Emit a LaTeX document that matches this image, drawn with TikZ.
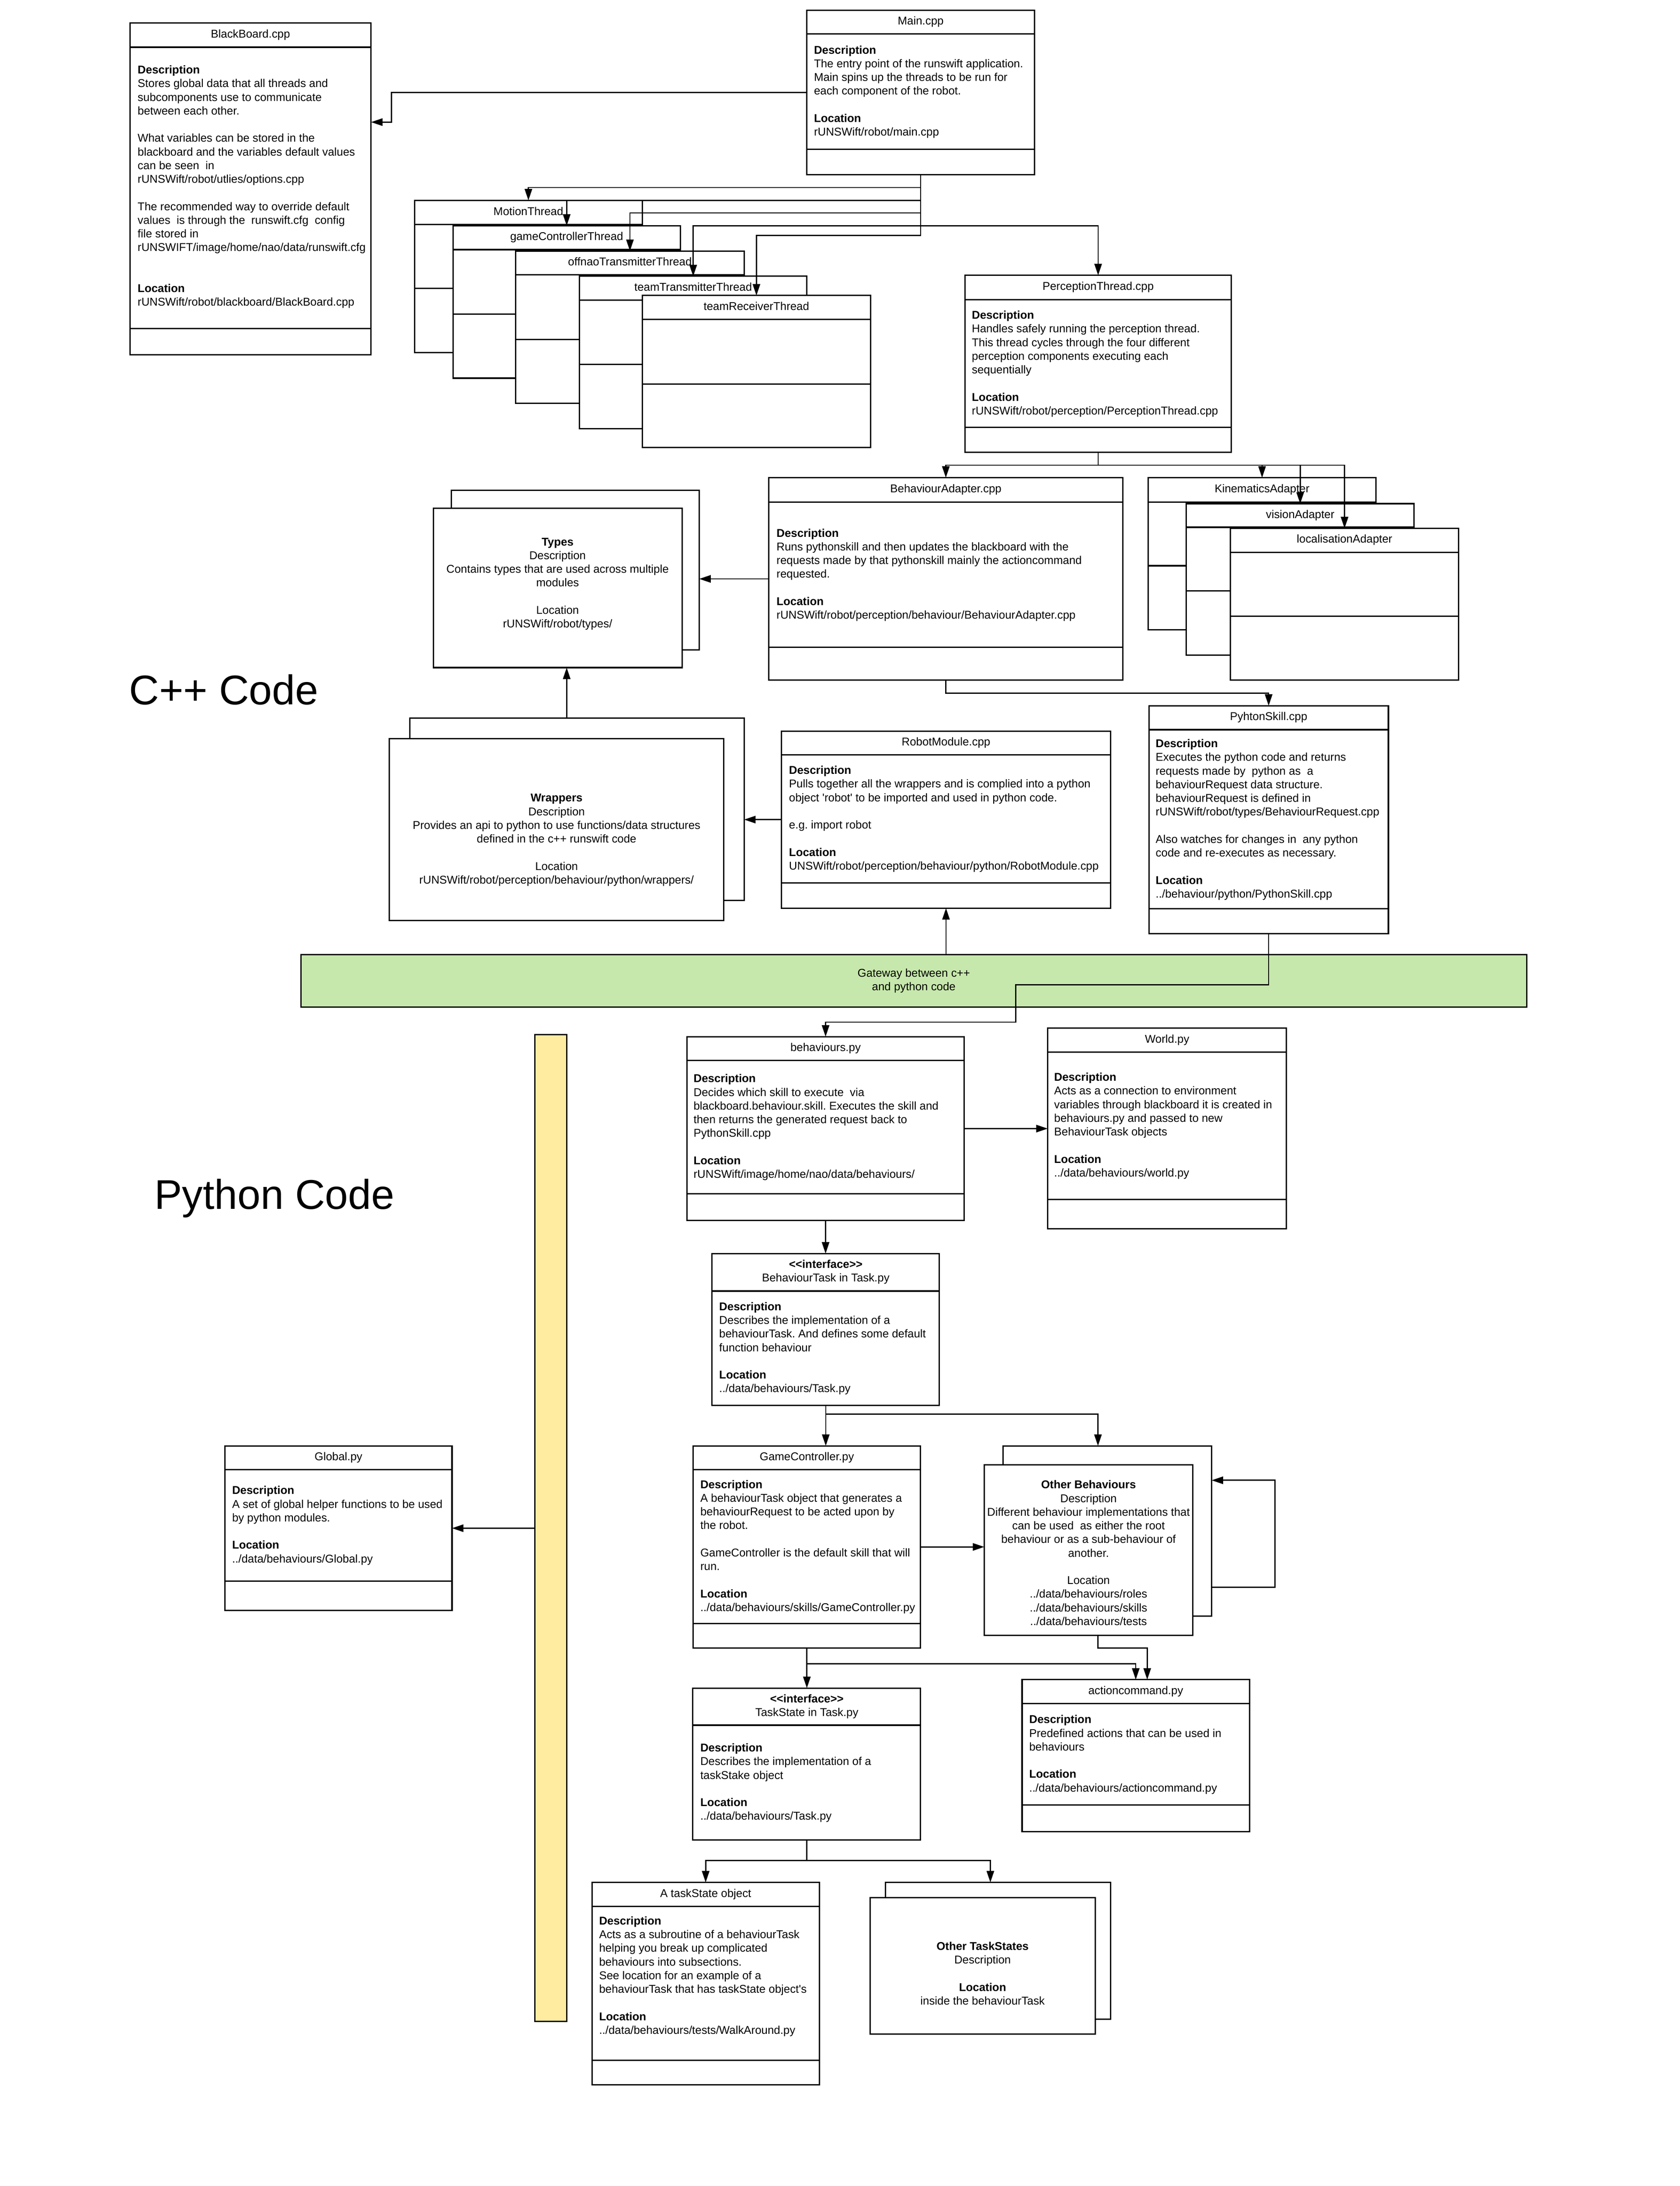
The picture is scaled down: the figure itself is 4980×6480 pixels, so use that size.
\documentclass[tikz,border=0pt]{standalone}
\usepackage{fontspec}
\setmainfont{Liberation Sans}
\usetikzlibrary{arrows.meta}
\frenchspacing
\definecolor{gwgreen}{RGB}{199,232,172}
\definecolor{baryellow}{RGB}{255,236,161}
\newcommand\bodyf{\fontsize{33.5}{40.5}\selectfont}
\newcommand\bigf{\fontsize{123}{148}\selectfont}
\newcommand\intf{\textbf{\textless\kern0pt\textless\kern0pt interface\textgreater\kern0pt\textgreater}}
% plain rectangle: name, x1, y1, x2, y2
\newcommand\plainbox[5]{%
  \node[box, anchor=north west, minimum width={(#4-#2)*1pt}, minimum height={(#5-#3)*1pt}] (#1) at (#2,#3) {};}
% class box with header and divider: name, x1, y1, x2, y2, header y, divider y, title
\newcommand\umlA[8]{%
  \plainbox{#1}{#2}{#3}{#4}{#5}%
  \draw[bline] (#2,#6) -- (#4,#6);
  \draw[bline] (#2,#7) -- (#4,#7);
  \node[ttl] (#1-t) at ({(#2+#4)/2},{(#3+#6)/2}) {\strut #8};}
% class box with header only: name, x1, y1, x2, y2, header y
\newcommand\umlB[6]{%
  \plainbox{#1}{#2}{#3}{#4}{#5}%
  \draw[bline] (#2,#6) -- (#4,#6);}
\begin{document}
\begin{tikzpicture}[x=1pt,y=-1pt,
  box/.style={draw, line width=4pt, fill=white, inner sep=0pt, outer sep=0pt},
  bline/.style={line width=4pt},
  conn/.style={line width=3.5pt, -{Triangle[length=34pt,width=22pt]}},
  txt/.style={anchor=north west, inner sep=0pt, align=left, font=\bodyf},
  ctxt/.style={anchor=north, inner sep=0pt, align=center, font=\bodyf},
  ttl/.style={inner sep=0pt, align=center, font=\bodyf},
  biglabel/.style={anchor=base west, inner sep=0pt, font=\bigf}]
\fill[white] (0,0) rectangle (4980,6480);
\useasboundingbox (0,0) rectangle (4980,6480);

% ---------------- BlackBoard ----------------
\umlA{bb}{385}{68}{1100}{1052}{140}{974}{BlackBoard.cpp}
\node[txt] (bb-d) at (408,190) {\strut\textbf{Description}\\
Stores global data that all threads and\\
subcomponents use to communicate\\
between each other.\\[40.5pt]
What variables can be stored in the\\
blackboard and the variables default values\\
can be seen\ \ in\\
rUNSWift/robot/utlies/options.cpp\\[40.5pt]
The recommended way to override default\\
values\ \ is through the\ \ runswift.cfg\ \ config\\
file stored in\\
rUNSWIFT/image/home/nao/data/runswift.cfg\\[81pt]
\textbf{Location}\\
rUNSWift/robot/blackboard/BlackBoard.cpp};

% ---------------- Main ----------------
\umlA{main}{2392}{30}{3067}{518}{101}{443}{Main.cpp}
\node[txt] (main-d) at (2413,131) {\strut\textbf{Description}\\
The entry point of the runswift application.\\
Main spins up the threads to be run for\\
each component of the robot.\\[40.5pt]
\textbf{Location}\\
rUNSWift/robot/main.cpp};

% ---------------- Threads ----------------
\umlA{motion}{1229}{594}{1904}{1045}{666}{855}{MotionThread}
\umlA{gct}{1343}{669}{2017}{1121}{740}{931}{gameControllerThread}
\umlA{offnao}{1529}{744}{2206}{1196}{815}{1006}{offnaoTransmitterThread}
\umlA{ttt}{1718}{819}{2392}{1271}{890}{1080}{teamTransmitterThread}
\umlA{trt}{1904}{876}{2581}{1327}{947}{1138}{teamReceiverThread}

% ---------------- PerceptionThread ----------------
\umlA{perc}{2861}{816}{3650}{1341}{888}{1267}{PerceptionThread.cpp}
\node[txt] (perc-d) at (2881,917) {\strut\textbf{Description}\\
Handles safely running the perception thread.\\
This thread cycles through the four different\\
perception components executing each\\
sequentially\\[40.5pt]
\textbf{Location}\\
rUNSWift/robot/perception/PerceptionThread.cpp};

% ---------------- BehaviourAdapter ----------------
\umlA{ba}{2279}{1416}{3329}{2016}{1488}{1919}{BehaviourAdapter.cpp}
\node[txt] (ba-d) at (2302,1563) {\strut\textbf{Description}\\
Runs pythonskill and then updates the blackboard with the\\
requests made by that pythonskill mainly the actioncommand\\
requested.\\[40.5pt]
\textbf{Location}\\
rUNSWift/robot/perception/behaviour/BehaviourAdapter.cpp};

% ---------------- Adapters ----------------
\umlA{kin}{3404}{1416}{4079}{1867}{1488}{1677}{KinematicsAdapter}
\umlA{vis}{3517}{1493}{4192}{1942}{1563}{1752}{visionAdapter}
\umlA{loc}{3648}{1566}{4324}{2016}{1637}{1827}{localisationAdapter}

% ---------------- Types ----------------
\plainbox{typesb}{1338}{1454}{2073}{1927}
\plainbox{typesf}{1285}{1507}{2022}{1979}
\node[ctxt] (types-d) at (1653,1589) {\strut\textbf{Types}\\
Description\\
Contains types that are used across multiple\\
modules\\[40.5pt]
Location\\
rUNSWift/robot/types/};

% ---------------- Wrappers ----------------
\plainbox{wrapb}{1215}{2129}{2206}{2669}
\plainbox{wrapf}{1154}{2189}{2145}{2729}
\node[ctxt] (wrap-d) at (1650,2348) {\strut\textbf{Wrappers}\\
Description\\
Provides an api to python to use functions/data structures\\
defined in the c++ runswift code\\[40.5pt]
Location\\
rUNSWift/robot/perception/behaviour/python/wrappers/};

% ---------------- RobotModule ----------------
\umlA{rm}{2317}{2167}{3292}{2692}{2238}{2617}{RobotModule.cpp}
\node[txt] (rm-d) at (2339,2266) {\strut\textbf{Description}\\
Pulls together all the wrappers and is complied into a python\\
object \textquotesingle robot\textquotesingle\ to be imported and used in python code.\\[40.5pt]
e.g. import robot\\[40.5pt]
\textbf{Location}\\
UNSWift/robot/perception/behaviour/python/RobotModule.cpp};

% ---------------- PythonSkill ----------------
\umlA{ps}{3406}{2092}{4116}{2767}{2163}{2694}{PyhtonSkill.cpp}
\node[txt] (ps-d) at (3426,2187) {\strut\textbf{Description}\\
Executes the python code and returns\\
requests made by\ \ python as\ \ a\\
behaviourRequest data structure.\\
behaviourRequest is defined in\\
rUNSWift/robot/types/BehaviourRequest.cpp\\[40.5pt]
Also watches for changes in\ \ any python\\
code and re-executes as necessary.\\[40.5pt]
\textbf{Location}\\
../behaviour/python/PythonSkill.cpp};

% ---------------- Gateway ----------------
\node[draw, line width=4pt, fill=gwgreen, anchor=north west, inner sep=0pt, outer sep=0pt,
  minimum width=3634pt, minimum height=155pt] (gw) at (892,2830) {};
\node[ttl] (gw-t) at (gw.center) {\strut Gateway between c++\\and python code\strut};

% ---------------- Section labels ----------------
\node[biglabel] (cpplabel) at (383,2088) {C++ Code};
\node[biglabel] (pylabel) at (458,3584) {Python Code};

% ---------------- Yellow bar ----------------
\node[draw, line width=4pt, fill=baryellow, anchor=north west, inner sep=0pt, outer sep=0pt,
  minimum width=94pt, minimum height=2925pt] (ybar) at (1586,3067) {};

% ---------------- behaviours.py ----------------
\umlA{beh}{2037}{3073}{2858}{3618}{3143}{3539}{behaviours.py}
\node[txt] (beh-d) at (2056,3180) {\strut\textbf{Description}\\
Decides which skill to execute\ \ via\\
blackboard.behaviour.skill. Executes the skill and\\
then returns the generated request back to\\
PythonSkill.cpp\\[40.5pt]
\textbf{Location}\\
rUNSWift/image/home/nao/data/behaviours/};

% ---------------- World.py ----------------
\umlA{world}{3106}{3047}{3814}{3642}{3119}{3556}{World.py}
\node[txt] (world-d) at (3125,3176) {\strut\textbf{Description}\\
Acts as a connection to environment\\
variables through blackboard it is created in\\
behaviours.py and passed to new\\
BehaviourTask objects\\[40.5pt]
\textbf{Location}\\
../data/behaviours/world.py};

% ---------------- BehaviourTask ----------------
\umlB{task}{2111}{3716}{2785}{4166}{3827}
\node[ttl] (task-t) at (2448,3771) {\strut\intf\\BehaviourTask in Task.py\strut};
\node[txt] (task-d) at (2132,3856) {\strut\textbf{Description}\\
Describes the implementation of a\\
behaviourTask. And defines some default\\
function behaviour\\[40.5pt]
\textbf{Location}\\
../data/behaviours/Task.py};

% ---------------- Global.py ----------------
\umlA{glob}{667}{4286}{1340}{4774}{4357}{4687}{Global.py}
\node[txt] (glob-d) at (688,4401) {\strut\textbf{Description}\\
A set of global helper functions to be used\\
by python modules.\\[40.5pt]
\textbf{Location}\\
../data/behaviours/Global.py};

% ---------------- GameController ----------------
\umlA{gc}{2055}{4286}{2729}{4885}{4357}{4813}{GameController.py}
\node[txt] (gc-d) at (2076,4383) {\strut\textbf{Description}\\
A behaviourTask object that generates a\\
behaviourRequest to be acted upon by\\
the robot.\\[40.5pt]
GameController is the default skill that will\\
run.\\[40.5pt]
\textbf{Location}\\
../data/behaviours/skills/GameController.py};

% ---------------- Other Behaviours ----------------
\plainbox{obb}{2974}{4286}{3592}{4791}
\plainbox{obf}{2918}{4342}{3536}{4848}
\node[ctxt] (ob-d) at (3227,4384) {\strut\textbf{Other Behaviours}\\
Description\\
Different behaviour implementations that\\
can be used\ \ as either the root\\
behaviour or as a sub-behaviour of\\
another.\\[40.5pt]
Location\\
../data/behaviours/roles\\
../data/behaviours/skills\\
../data/behaviours/tests};

% ---------------- actioncommand ----------------
\umlA{ac}{3030}{4979}{3704}{5430}{5050}{5351}{actioncommand.py}
\node[txt] (ac-d) at (3051,5080) {\strut\textbf{Description}\\
Predefined actions that can be used in\\
behaviours\\[40.5pt]
\textbf{Location}\\
../data/behaviours/actioncommand.py};

% ---------------- TaskState ----------------
\umlB{ts}{2054}{5004}{2729}{5454}{5114}
\node[ttl] (ts-t) at (2392,5059) {\strut\intf\\TaskState in Task.py\strut};
\node[txt] (ts-d) at (2076,5164) {\strut\textbf{Description}\\
Describes the implementation of a\\
taskStake object\\[40.5pt]
\textbf{Location}\\
../data/behaviours/Task.py};

% ---------------- A taskState object ----------------
\umlA{tso}{1755}{5580}{2429}{6180}{5651}{6107}{A taskState object}
\node[txt] (tso-d) at (1776,5677) {\strut\textbf{Description}\\
Acts as a subroutine of a behaviourTask\\
helping you break up complicated\\
behaviours into subsections.\\
See location for an example of a\\
behaviourTask that has taskState object\textquotesingle s\\[40.5pt]
\textbf{Location}\\
../data/behaviours/tests/WalkAround.py};

% ---------------- Other TaskStates ----------------
\plainbox{otsb}{2625}{5580}{3292}{5985}
\plainbox{otsf}{2580}{5625}{3247}{6030}
\node[ctxt] (ots-d) at (2913,5752) {\strut\textbf{Other TaskStates}\\
Description\\[40.5pt]
\textbf{Location}\\
inside the behaviourTask};

% ---------------- connector end points ----------------
\coordinate (bbin) at (1100,362);
\coordinate (wout) at (1680,2129);
\coordinate (obin) at (3255,4286);
\coordinate (oblo) at (3592,4705);
\coordinate (obli) at (3592,4388);
\coordinate (obout) at (3255,4848);
\coordinate (acin) at (3401,4979);
\coordinate (otsin) at (2936,5580);

% ---------------- connectors ----------------
\draw[conn] (main.west) -| (1161,362) -- (bbin);
\draw[conn] (main.south) -- ++(0,38) -| (motion.north);
\draw[conn] (main.south) -- ++(0,76) -| (gct.north);
\draw[conn] (main.south) -- ++(0,113) -| (offnao.north);
\draw[conn] (main.south) -- ++(0,151) -| (ttt.north);
\draw[conn] (main.south) -- ++(0,151) -| (perc.north);
\draw[conn] (main.south) -- ++(0,180) -| (trt.north);

\draw[conn] (perc.south) -- ++(0,38) -| (ba.north);
\draw[conn] (perc.south) -- ++(0,38) -| (kin.north);
\draw[conn] (perc.south) -- ++(0,38) -| (vis.north);
\draw[conn] (perc.south) -- ++(0,38) -| (loc.north);

\draw[conn] (ba.west) -- (typesb.east |- ba.west);
\draw[conn] (ba.south) -- ++(0,39) -| (ps.north);
\draw[conn] (wout) -- (wout |- typesf.south);
\draw[conn] (rm.west) -- (wrapb.east |- rm.west);
\draw[conn] (rm.south |- gw.north) -- (rm.south);
\draw[conn] (ps.south) -- ++(0,152) -- ++(-750,0) -- ++(0,111) -| (beh.north);

\draw[conn] (beh.east) -- (world.west |- beh.east);
\draw[conn] (beh.south) -- (beh.south |- task.north);
\draw[conn] (task.south) -- (task.south |- gc.north);
\draw[conn] (task.south) -- ++(0,26) -| (obin);
\draw[conn] (gc.east) -- (obf.west |- gc.east);
\draw[conn] (oblo) -- ++(188,0) |- (obli);
\draw[conn] (ybar.west |- glob.east) -- (glob.east);

\draw[conn] (gc.south) -- (gc.south |- ts.north);
\draw[conn] (gc.south) -- ++(0,47) -| (ac.north);
\draw[conn] (obout) -- ++(0,37) -| (acin);
\draw[conn] (ts.south) -- ++(0,61) -| (tso.north);
\draw[conn] (ts.south) -- ++(0,61) -| (otsin);
\end{tikzpicture}
\end{document}
